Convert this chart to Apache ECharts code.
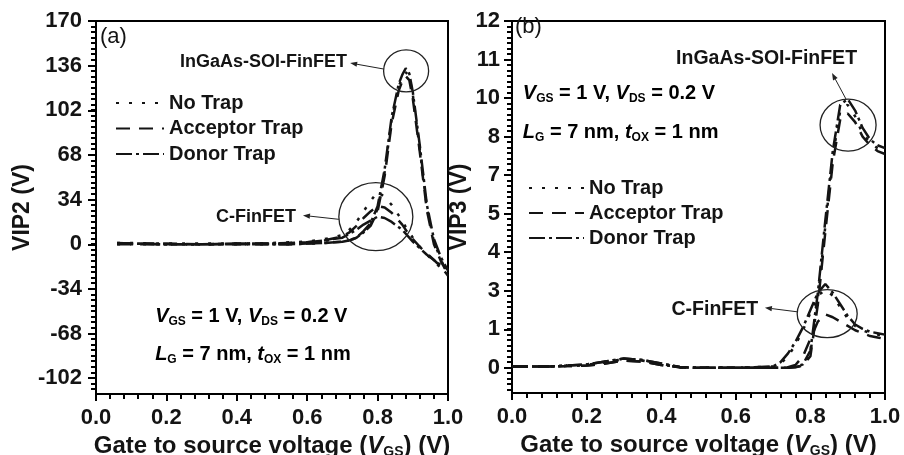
<!DOCTYPE html>
<html><head><meta charset="utf-8">
<script src="https://cdn.jsdelivr.net/npm/echarts@6/dist/echarts.min.js"></script>
<style>html,body{margin:0;padding:0;background:#fff}#c{width:904px;height:455px}</style>
</head><body><div id="c"></div>
<script>
// ---------- DATA ----------
const trapNames = ['No Trap', 'Acceptor Trap', 'Donor Trap'];

// Panel (a): VIP2
const xA = [0.06, 0.1, 0.2, 0.3, 0.4, 0.5, 0.55, 0.6, 0.65, 0.7, 0.72, 0.74, 0.76, 0.78, 0.8, 0.82, 0.84, 0.86, 0.87, 0.88, 0.89, 0.9, 0.92, 0.94, 0.96, 0.98, 1.0];
const cNoA  = [1, 1, 0.5, 0.5, 0.5, 1, 1.5, 2, 4, 7, 11, 17, 25, 33, 40, 36, 30, 22, 18, 13, 9, 5, -2, -8, -13, -18, -22];
const cAccA = [1, 0.5, 0.5, 0, 0.5, 0.5, 1, 1.5, 3, 6, 9, 14, 20, 25, 29, 28, 24, 18, 15, 11, 7, 4, -2, -7, -12, -17, -24];
const cDonA = [0.5, 0.5, 0, 0, 0.5, 0.5, 1, 1.5, 3, 5, 8, 11, 15, 18, 21, 20, 17, 13, 11, 8, 5, 2, -3, -8, -12, -16, -19];
const iNoA  = [0, 0, 0, 0, 0, 0, 0, 0.5, 1, 2, 3, 5, 9, 15, 27, 55, 95, 120, 127, 131, 128, 114, 72, 28, 2, -12, -22];
const iAccA = [0, 0, 0, 0, 0, 0, 0, 0.5, 1, 2, 3, 5, 9, 14, 25, 52, 92, 117, 124, 128, 125, 111, 70, 26, 0, -13, -23];
const iDonA = [0.5, 0.5, 0, 0, 0, 0, 0, 0.5, 1, 2, 3, 5, 10, 16, 29, 57, 97, 122, 129, 134, 130, 116, 75, 30, 4, -10, -20];

// Panel (b): VIP3
const xB = [0, 0.05, 0.1, 0.15, 0.2, 0.25, 0.3, 0.35, 0.4, 0.45, 0.5, 0.55, 0.6, 0.65, 0.7, 0.72, 0.74, 0.76, 0.78, 0.8, 0.82, 0.84, 0.86, 0.88, 0.9, 0.92, 0.94, 0.96, 0.98, 1.0];
const cNoB  = [0.05, 0.05, 0.05, 0.07, 0.1, 0.2, 0.3, 0.25, 0.12, 0.02, 0, 0, 0, 0.02, 0.05, 0.15, 0.4, 0.8, 1.3, 1.9, 2.5, 2.7, 2.5, 2.1, 1.7, 1.45, 1.3, 1.2, 1.15, 1.1];
const cAccB = [0.05, 0.05, 0.05, 0.06, 0.08, 0.15, 0.25, 0.22, 0.1, 0.02, 0, 0, 0, 0, 0, 0, 0.02, 0.1, 0.4, 1.0, 1.6, 1.85, 1.75, 1.6, 1.45, 1.3, 1.2, 1.1, 1.05, 1.0];
const cDonB = [0.05, 0.05, 0.05, 0.08, 0.12, 0.22, 0.32, 0.27, 0.15, 0.03, 0, 0, 0, 0.02, 0.05, 0.2, 0.5, 0.9, 1.4, 2.0, 2.6, 2.9, 2.6, 2.2, 1.8, 1.5, 1.35, 1.25, 1.2, 1.15];
const iNoB  = [0.05, 0.05, 0.05, 0.07, 0.1, 0.2, 0.3, 0.25, 0.12, 0.02, 0, 0, 0, 0, 0, 0, 0, 0.02, 0.1, 0.5, 2.4, 4.9, 7.3, 8.9, 9.1, 8.7, 8.1, 7.8, 7.6, 7.5];
const iAccB = [0.05, 0.05, 0.05, 0.06, 0.08, 0.15, 0.25, 0.22, 0.1, 0.02, 0, 0, 0, 0, 0, 0, 0, 0.02, 0.08, 0.4, 2.2, 4.7, 7.1, 8.6, 8.8, 8.5, 8.0, 7.7, 7.5, 7.4];
const iDonB = [0.05, 0.05, 0.05, 0.08, 0.12, 0.22, 0.32, 0.27, 0.15, 0.03, 0, 0, 0, 0, 0, 0, 0, 0.03, 0.12, 0.6, 2.6, 5.1, 7.5, 9.1, 9.3, 8.9, 8.3, 7.9, 7.7, 7.6];

// Tick labels
const yTicksA = [-102, -68, -34, 0, 34, 68, 102, 136, 170];
const yTicksB = [0, 4/3, 8/3, 4, 16/3, 20/3, 8, 28/3, 32/3, 12];
const yLabelsB = ['0', '1', '3', '4', '5', '7', '8', '10', '11', '12'];

// ---------- STYLE ----------
const FONT = '"Liberation Sans", Arial, Helvetica, sans-serif';
const INK = '#141414';
const dashes = { 'No Trap': [3, 10], 'Acceptor Trap': [14, 9], 'Donor Trap': [16, 4, 3, 4] };
const gridA = { left: 96, top: 21, width: 352, height: 373 };
const gridB = { left: 512, top: 21, width: 373, height: 372 };
const yMinA = -114, yMaxA = 170;
const yMinB = -0.87, yMaxB = 12;

function zip(xs, ys) { return xs.map((x, i) => [x, ys[i]]); }
function minorList(min, max, step) {
  const out = [];
  for (let k = Math.ceil(min / step - 1e-9); k * step <= max + 1e-9; k++) out.push(+(k * step).toFixed(6));
  return out;
}

const tickLabelStyle = { fontFamily: FONT, fontWeight: 'bold', fontSize: 22, color: INK };
const subRich = (size) => ({
  n: { fontFamily: FONT, fontWeight: 'bold', fontSize: size, color: INK, lineHeight: size + 2 },
  i: { fontFamily: FONT, fontWeight: 'bold', fontStyle: 'italic', fontSize: size, color: INK, lineHeight: size + 2 },
  s: { fontFamily: FONT, fontWeight: 'bold', fontSize: Math.round(size * 0.6), color: INK, lineHeight: Math.round(size * 0.6), verticalAlign: 'bottom' }
});

function xAxisCfg(gi) {
  return {
    type: 'value', gridIndex: gi, min: 0, max: 1, interval: 0.2,
    name: '{n|Gate to source voltage (}{i|V}{s|GS}{n|) (V)}',
    nameLocation: 'middle', nameGap: 26,
    nameTextStyle: { rich: subRich(24) },
    axisLine: { show: true, onZero: false, lineStyle: { color: '#000', width: 2 } },
    axisTick: { show: true, length: 7, lineStyle: { color: '#000', width: 2 } },
    minorTick: { show: true, splitNumber: 5, length: 5, lineStyle: { color: '#000', width: 2 } },
    axisLabel: { ...tickLabelStyle, margin: 13, showMinLabel: true, showMaxLabel: true, formatter: v => v.toFixed(1) },
    splitLine: { show: false }, minorSplitLine: { show: false }
  };
}

function yMainCfg(gi, min, max, ticks, fmt, name, margin, gap) {
  return {
    type: 'value', gridIndex: gi, min: min, max: max, position: 'left',
    name: name, nameLocation: 'middle', nameRotate: 90, nameGap: gap,
    nameTextStyle: { fontFamily: FONT, fontWeight: 'bold', fontSize: 23, color: INK },
    axisLine: { show: true, onZero: false, lineStyle: { color: '#000', width: 2 } },
    axisTick: { show: true, length: 8, customValues: ticks, lineStyle: { color: '#000', width: 2 } },
    axisLabel: { ...tickLabelStyle, margin: margin, customValues: ticks, formatter: fmt },
    splitLine: { show: false }
  };
}

function lineSeries(name, xi, yi, xs, ys) {
  return {
    type: 'line', name: name, xAxisIndex: xi, yAxisIndex: yi,
    data: zip(xs, ys), symbol: 'none', showSymbol: false, smooth: false,
    lineStyle: { color: INK, width: 2.5, type: dashes[name], cap: 'butt' },
    itemStyle: { color: INK },
    z: 3
  };
}

const series = [
  lineSeries('No Trap', 0, 0, xA, cNoA),
  lineSeries('Acceptor Trap', 0, 0, xA, cAccA),
  lineSeries('Donor Trap', 0, 0, xA, cDonA),
  lineSeries('No Trap', 0, 0, xA, iNoA),
  lineSeries('Acceptor Trap', 0, 0, xA, iAccA),
  lineSeries('Donor Trap', 0, 0, xA, iDonA),
  lineSeries('No Trap', 1, 1, xB, cNoB),
  lineSeries('Acceptor Trap', 1, 1, xB, cAccB),
  lineSeries('Donor Trap', 1, 1, xB, cDonB),
  lineSeries('No Trap', 1, 1, xB, iNoB),
  lineSeries('Acceptor Trap', 1, 1, xB, iAccB),
  lineSeries('Donor Trap', 1, 1, xB, iDonB)
];

const legendText = { fontFamily: FONT, fontWeight: 'bold', fontSize: 20, color: INK, lineHeight: 20 };
const legendItem = { opacity: 0, color: 'rgba(0,0,0,0)', borderWidth: 0 };

const chart = echarts.init(document.getElementById('c'), null, { renderer: 'canvas' });
chart.setOption({
  animation: false,
  backgroundColor: '#fff',
  grid: [
    { ...gridA, show: true, borderColor: '#000', borderWidth: 2, backgroundColor: 'transparent', containLabel: false, outerBoundsMode: 'none' },
    { ...gridB, show: true, borderColor: '#000', borderWidth: 2, backgroundColor: 'transparent', containLabel: false, outerBoundsMode: 'none' }
  ],
  xAxis: [xAxisCfg(0), xAxisCfg(1)],
  yAxis: [
    yMainCfg(0, yMinA, yMaxA, yTicksA, v => String(Math.round(v)), 'VIP2 (V)', 14, 62),
    yMainCfg(1, yMinB, yMaxB, yTicksB, v => {
      const i = yTicksB.findIndex(t => Math.abs(t - v) < 1e-6);
      return i >= 0 ? yLabelsB[i] : '';
    }, 'VIP3 (V)', 12, 39)
  ],
  legend: [
    { left: 110, top: 88, orient: 'vertical', itemWidth: 48, itemHeight: 12, itemGap: 5.5,
      textStyle: legendText, data: trapNames, selectedMode: false, itemStyle: legendItem },
    { left: 523, top: 173, orient: 'vertical', itemWidth: 55, itemHeight: 12, itemGap: 5,
      textStyle: legendText, data: trapNames, selectedMode: false, itemStyle: legendItem }
  ],
  series: series
});

// ---------- ANNOTATIONS (anchored in data coordinates) ----------
function P(panel, pt) { return chart.convertToPixel({ xAxisIndex: panel, yAxisIndex: panel }, pt); }
function arrow(panel, tail, head) {
  const a = P(panel, tail), b = P(panel, head);
  const dx = b[0] - a[0], dy = b[1] - a[1], L = Math.hypot(dx, dy), ux = dx / L, uy = dy / L;
  const hl = 7, hw = 2.6;
  const base = [b[0] - ux * hl, b[1] - uy * hl];
  return [
    { type: 'line', shape: { x1: a[0], y1: a[1], x2: base[0], y2: base[1] }, style: { stroke: '#222', lineWidth: 1 }, z: 10 },
    { type: 'polygon', shape: { points: [b, [base[0] - uy * hw, base[1] + ux * hw], [base[0] + uy * hw, base[1] - ux * hw]] }, style: { fill: '#222' }, z: 10 }
  ];
}
function ellipse(panel, c, rx, ry) {
  const p = P(panel, c);
  return { type: 'ellipse', shape: { cx: p[0], cy: p[1], rx: rx, ry: ry }, style: { fill: 'none', stroke: '#222', lineWidth: 1.3 }, z: 10 };
}
function label(panel, pt, text, size, align) {
  const p = P(panel, pt);
  return { type: 'text', x: p[0], y: p[1], z: 10,
    style: { text: text, fontFamily: FONT, fontWeight: 'bold', fontSize: size, fill: INK, align: align, verticalAlign: 'middle' } };
}
function richLabel(panel, pt, text, size) {
  const p = P(panel, pt);
  return { type: 'text', x: p[0], y: p[1], z: 10,
    style: { text: text, rich: subRich(size), align: 'left', verticalAlign: 'middle' } };
}
// minor y ticks placed through the axis scale
function minorTicks(panel, min, max, step) {
  return minorList(min, max, step).map(v => {
    const p = P(panel, [0, v]);
    const y = Math.round(p[1]);
    return { type: 'line', silent: true, shape: { x1: p[0] - 5, y1: y, x2: p[0], y2: y }, style: { stroke: '#000', lineWidth: 2 }, z: 20 };
  });
}
const line1 = '{i|V}{s|GS}{n| = 1 V, }{i|V}{s|DS}{n| = 0.2 V}';
const line2 = '{i|L}{s|G}{n| = 7 nm, }{i|t}{s|OX}{n| = 1 nm}';

const g = [];
// panel (a)
g.push(...minorTicks(0, yMinA, yMaxA, 34 / 8));
g.push({ type: 'text', x: 100, y: 37, z: 10, style: { text: '(a)', fontFamily: FONT, fontSize: 22, fill: INK, verticalAlign: 'middle' } });
g.push(ellipse(0, [0.881, 132], 22.5, 21));
g.push(ellipse(0, [0.795, 21], 37, 34));
g.push(...arrow(0, [0.818, 133.4], [0.722, 138]));
g.push(...arrow(0, [0.690, 19], [0.588, 22]));
g.push(label(0, [0.713, 138.5], 'InGaAs-SOI-FinFET', 18, 'right'));
g.push(label(0, [0.568, 20.5], 'C-FinFET', 18, 'right'));
g.push(richLabel(0, [0.168, -55], line1, 20));
g.push(richLabel(0, [0.168, -84], line2, 20));
// panel (b)
g.push(...minorTicks(1, yMinB, yMaxB, (4 / 3) / 7));
g.push({ type: 'text', x: 515, y: 27, z: 10, style: { text: '(b)', fontFamily: FONT, fontSize: 22, fill: INK, verticalAlign: 'middle' } });
g.push(ellipse(1, [0.901, 8.4], 28, 26));
g.push(ellipse(1, [0.845, 1.875], 30, 24));
g.push(...arrow(1, [0.8954, 9.3], [0.858, 10.2]));
g.push(...arrow(1, [0.764, 1.94], [0.678, 2.08]));
g.push(label(1, [0.44, 10.7], 'InGaAs-SOI-FinFET', 19.5, 'left'));
g.push(label(1, [0.660, 2.0], 'C-FinFET', 19.5, 'right'));
g.push(richLabel(1, [0.029, 9.5], line1, 20));
g.push(richLabel(1, [0.029, 8.15], line2, 20));
chart.setOption({ graphic: g });
</script>
</body></html>
